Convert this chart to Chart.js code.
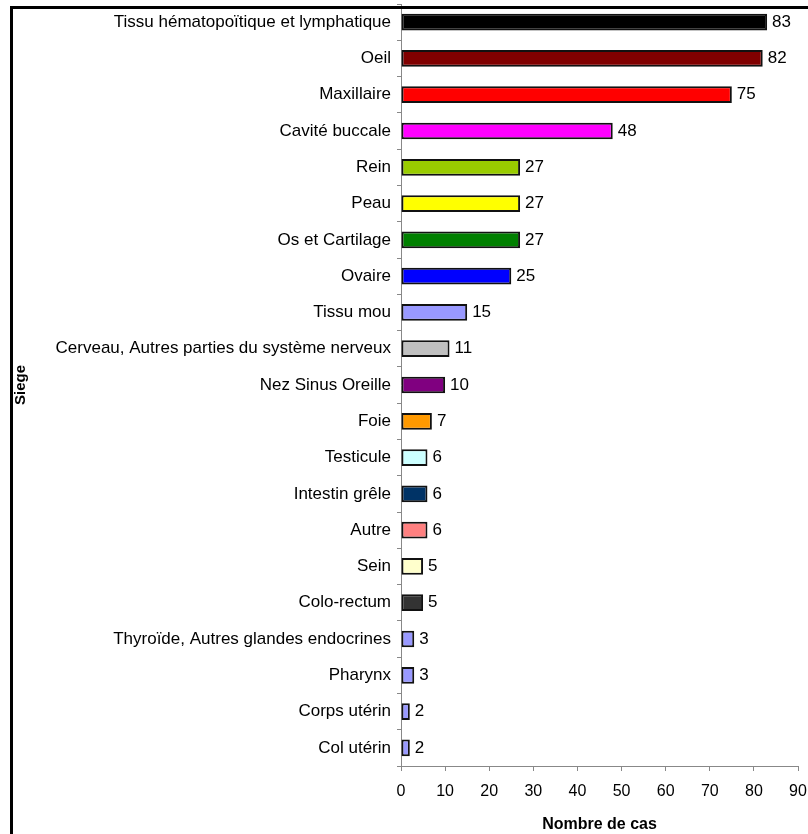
<!DOCTYPE html>
<html>
<head>
<meta charset="utf-8">
<script src="https://cdn.jsdelivr.net/npm/chart.js@4/dist/chart.umd.min.js"></script>
<style>
    html, body { margin: 0; padding: 0; background: #fff; }
    #wrap { position: relative; width: 808px; height: 834px; }
    #frame {
        position: absolute; left: 10px; top: 6px; width: 798px; height: 828px;
        border-top: 3px solid #000; border-left: 3px solid #000;
        box-sizing: border-box; pointer-events: none;
    }
</style>
</head>
<body>
<div id="wrap">
    <canvas id="siegeChart" width="808" height="834"></canvas>
    <div id="frame"></div>
</div>
<script>
// Nombre de cas par siège
const sieges = [
    'Tissu hématopoïtique et lymphatique', 'Oeil', 'Maxillaire', 'Cavité buccale',
    'Rein', 'Peau', 'Os et Cartilage', 'Ovaire', 'Tissu mou',
    'Cerveau, Autres parties du système nerveux', 'Nez Sinus Oreille', 'Foie',
    'Testicule', 'Intestin grêle', 'Autre', 'Sein', 'Colo-rectum',
    'Thyroïde, Autres glandes endocrines', 'Pharynx', 'Corps utérin', 'Col utérin'
];
const nombreCas = [83, 82, 75, 48, 27, 27, 27, 25, 15, 11, 10, 7, 6, 6, 6, 5, 5, 3, 3, 2, 2];
const couleurs = [
    '#000000', '#800000', '#ff0000', '#ff00ff', '#99cc00', '#ffff00', '#008000',
    '#0000ff', '#9999ff', '#c0c0c0', '#800080', '#ff9900', '#ccffff', '#003366',
    '#ff8080', '#ffffcc', '#333333', '#9999ff', '#9999ff', '#9999ff', '#9999ff'
];
const xTicks = [0, 10, 20, 30, 40, 50, 60, 70, 80, 90];

const FONT = 'Liberation Sans, Arial, sans-serif';

// valeurs au bout des barres
const valueLabels = {
    id: 'valueLabels',
    afterDatasetsDraw(chart) {
        const ctx = chart.ctx;
        const meta = chart.getDatasetMeta(0);
        ctx.save();
        ctx.font = '17px ' + FONT;
        ctx.fillStyle = '#000';
        ctx.textAlign = 'left';
        ctx.textBaseline = 'middle';
        meta.data.forEach((bar, i) => {
            ctx.fillText(String(nombreCas[i]), bar.x + 5, bar.y);
        });
        ctx.restore();
    }
};

new Chart(document.getElementById('siegeChart').getContext('2d'), {
    type: 'bar',
    data: {
        labels: sieges,
        datasets: [{
            data: nombreCas,
            backgroundColor: couleurs,
            borderColor: '#111',
            borderWidth: 2,
            borderSkipped: false,
            barPercentage: 0.46,
            categoryPercentage: 1
        }]
    },
    options: {
        indexAxis: 'y',
        responsive: false,
        animation: false,
        layout: { padding: { top: 4, right: 0, bottom: 0, left: 0 } },
        plugins: {
            legend: { display: false },
            tooltip: { enabled: false }
        },
        scales: {
            x: {
                min: 0,
                max: 90,
                afterBuildTicks: scale => { scale.ticks = xTicks.map(v => ({ value: v })); },
                afterFit: scale => {
                    scale.height = 68;
                    scale.paddingLeft = 0;
                    scale.paddingRight = 10;
                },
                grid: { drawOnChartArea: false, drawTicks: true, tickLength: 5, color: '#888' },
                border: { color: '#888' },
                ticks: { color: '#000', padding: 11, font: { family: FONT, size: 16 } },
                title: {
                    display: true, text: 'Nombre de cas', color: '#000',
                    font: { family: FONT, size: 16, weight: 'bold' },
                    padding: { top: 15, bottom: 0 }
                }
            },
            y: {
                afterFit: scale => {
                    scale.width = 401;
                    scale.paddingTop = 0;
                    scale.paddingBottom = 0;
                },
                grid: { drawOnChartArea: false, drawTicks: true, tickLength: 4, color: '#888', offset: true },
                border: { color: '#888' },
                ticks: { color: '#000', padding: 6, autoSkip: false, font: { family: FONT, size: 17 } },
                title: {
                    display: true, text: 'Siege', color: '#000',
                    font: { family: FONT, size: 15, weight: 'bold' },
                    padding: { top: 12, bottom: 0 }
                }
            }
        }
    },
    plugins: [valueLabels]
});
</script>
</body>
</html>
